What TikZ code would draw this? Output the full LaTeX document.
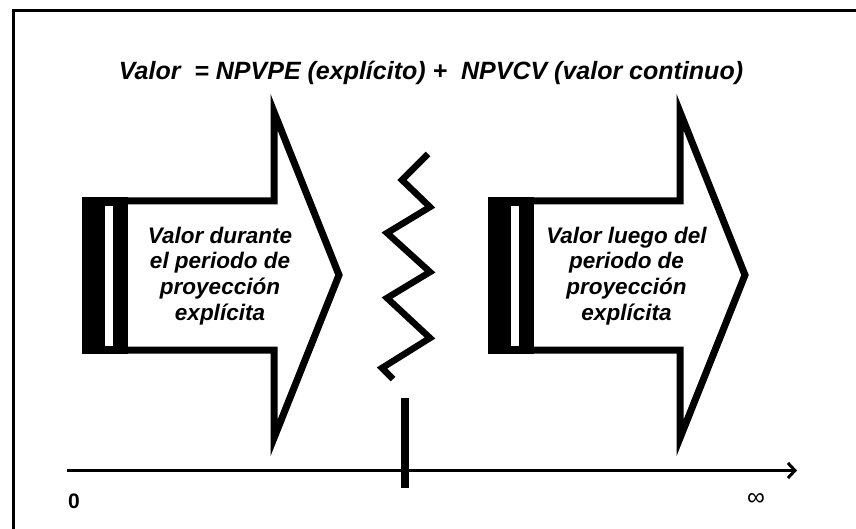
\documentclass[tikz,border=0pt]{standalone}
\usepackage{fontspec}
\setmainfont{Liberation Sans}
\usepackage{tikz}
\usetikzlibrary{positioning}
\usetikzlibrary{calc}
\usetikzlibrary{arrows.meta}

\begin{document}
\begin{tikzpicture}[x=1pt, y=-1pt, line join=miter]
    % page size of the picture
    \useasboundingbox (0, 0) rectangle (856, 529);
    \clip (0, 0) rectangle (856, 529);

    \tikzstyle{title} = [font=\fontsize{25}{30}\selectfont\bfseries\itshape, inner sep=0pt]
    \tikzstyle{label} = [font=\fontsize{22.5}{25.8}\selectfont\bfseries\itshape, align=center, inner sep=0pt]
    \tikzstyle{outline} = [draw=black, line width=7pt, fill=white]
    \tikzstyle{axislabel} = [font=\fontsize{21}{24}\selectfont\bfseries, inner sep=0pt]

    % frame (only top and left edges are inside the page)
    \draw[line width=3pt] (13.5, 11) rectangle (900, 600);

    % title line
    \node[title] (T) at (431, 73) {Valor\ \ = NPVPE (explícito) +\ \ NPVCV (valor continuo)};

    % draw the two striped arrows, the second one shifted to the right
    \foreach \s/\name in {0/L, 406/R} {
        \begin{scope}[xshift=\s]
            \draw[outline] (124, 201) -- (274, 201) -- (274, 112) -- (339, 275)
                -- (274, 438) -- (274, 350) -- (124, 350) -- cycle;
            % black bar with the white stripe
            \fill[black] (82, 197.5) rectangle (128, 353.5);
            \fill[white] (105, 206) rectangle (113, 346);
            \coordinate (A\name) at (220, 276);
        \end{scope}
    }
    \node[label] (TL) at (AL) {Valor durante\\el periodo de\\proyección\\explícita};
    \node[label] (TR) at ($(AR) + (0.5, 0)$) {Valor luego del\\periodo de\\proyección\\explícita};

    % break mark between the two periods
    \draw[line width=6.5pt, line cap=butt] (428, 154) -- (402, 180) -- (430, 207) -- (387, 233)
        -- (430, 272) -- (387, 298) -- (430, 338) -- (382, 368) -- (393, 379);

    % time axis
    \coordinate (O) at (67, 470.5);
    \coordinate (E) at (797, 470.5);
    \draw[line width=3pt, -{Straight Barb[length=7pt, width=15pt, line width=3pt]}] (O) -- (E);
    \draw[line width=8pt] (405, 398) -- (405, 488);

    \node[axislabel] (Z) at (74, 501) {0};
    \node[font=\fontsize{25}{27}\selectfont, inner sep=0pt] (I) at (756, 499) {∞};

\end{tikzpicture}
\end{document}
